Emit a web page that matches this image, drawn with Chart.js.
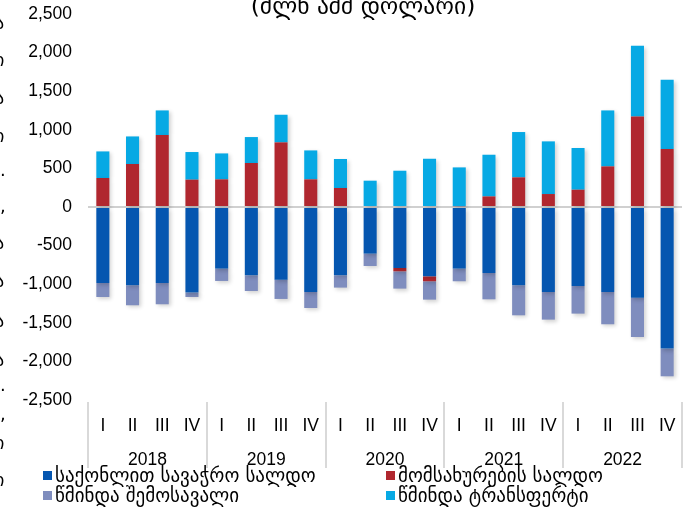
<!DOCTYPE html>
<html>
<head>
<meta charset="utf-8">
<script src="https://cdn.jsdelivr.net/npm/chart.js@4.4.1/dist/chart.umd.min.js"></script>
<style>
  html,body{margin:0;padding:0;background:#fff;overflow:hidden;}
  #wrap{position:relative;width:691px;height:509px;overflow:hidden;}
  #c{position:absolute;left:0;top:0;}
  #title{position:absolute;left:0;width:726px;top:-7px;text-align:center;font-family:"DejaVu Sans",sans-serif;font-size:23.5px;line-height:27px;color:#000;white-space:nowrap;}
  .leg{position:absolute;font-family:"DejaVu Sans",sans-serif;color:#000;white-space:nowrap;line-height:20px;}
  .sq{position:absolute;width:9px;height:9px;}
  .frag{position:absolute;font-family:"DejaVu Sans",sans-serif;font-size:18px;color:#000;line-height:20px;}
</style>
</head>
<body>
<div id="wrap">
  <canvas id="c" width="691" height="509"></canvas>
  <div id="title">(მლნ აშშ დოლარი)</div>
  <div id="legend"></div>
  <div id="frags"></div>
</div>
<script>
const quarters = ['I','II','III','IV','I','II','III','IV','I','II','III','IV','I','II','III','IV','I','II','III','IV'];
const years = ['2018','2019','2020','2021','2022'];
const seriesNames = ['საქონლით სავაჭრო სალდო','მომსახურების სალდო','წმინდა შემოსავალი','წმინდა ტრანსფერტი'];
const tradeBalance = [-984,-1014,-984,-1109,-798,-885,-941,-1101,-885,-604,-790,-898,-798,-855,-1014,-1101,-1023,-1101,-1174,-1834];
const servicesBalance = [376,557,932,354,358,570,837,358,246,0,-43,-64,10,137,384,168,224,526,1173,751];
const netIncome = [-182,-259,-276,-57,-160,-203,-250,-207,-159,-160,-224,-238,-164,-341,-389,-358,-358,-418,-510,-359];
const netTransfers = [344,357,319,358,336,336,358,375,376,341,470,625,503,540,587,682,540,725,916,898];
const colors = ['#0556B0','#B0272F','#7F8DBE','#07A9E4'];

// legend (HTML): square x, text x, row centre y, target text width
const legLayout = [[43,55,476,265],[386,398,476,209],[43,55,496,188],[386,398,496,192]];
const legEl = document.getElementById('legend');
const mctx = document.createElement('canvas').getContext('2d');
mctx.font = '17px "DejaVu Sans"';
seriesNames.forEach((n,i)=>{
  const L=legLayout[i];
  const sq=document.createElement('div');sq.className='sq';sq.style.background=colors[i];
  sq.style.left=L[0]+'px';sq.style.top=(L[2]-5)+'px';legEl.appendChild(sq);
  const fs=Math.max(15,Math.min(19,17*L[3]/mctx.measureText(n).width));
  const d=document.createElement('div');d.className='leg';d.style.fontSize=fs.toFixed(2)+'px';
  d.style.left=L[1]+'px';d.style.top=(L[2]-11)+'px';d.textContent=n;legEl.appendChild(d);
});
// clipped fragments of neighbouring text on the left edge
const frags = [['ა',25],['ი',62],['ა',100],['ი',138],['.',172],[',',208],['ა',245],['ა',283],['ა',323],['ა',362],['.',387],[',',416],['ი',445],['ი',482]];
const fEl=document.getElementById('frags');
frags.forEach(f=>{const s=document.createElement('div');s.className='frag';s.textContent=f[0];
  s.style.left=(f[0]==='.'||f[0]===',')?'0px':'-5px';s.style.top=(f[1]-12)+'px';fEl.appendChild(s);});

const shadowPlugin={
  id:'shadow',
  beforeDatasetsDraw(chart){const c=chart.ctx;c.save();c.shadowColor='rgba(0,0,0,0.18)';c.shadowBlur=4;c.shadowOffsetX=2;c.shadowOffsetY=2;},
  afterDatasetsDraw(chart){chart.ctx.restore();}
};
const dividerPlugin={
  id:'dividers',
  afterDraw(chart){
    const xs=chart.scales.x, c=chart.ctx;
    const n=years.length, w=(xs.right-xs.left)/n;
    c.save();c.strokeStyle='#d9d9d9';c.lineWidth=2;
    for(let k=0;k<=n;k++){const x=Math.round(xs.left+k*w);c.beginPath();c.moveTo(x,402);c.lineTo(x,468);c.stroke();}
    c.restore();
  }
};
const tickFont={family:'"Liberation Sans", Arial, sans-serif',size:17.5};
new Chart(document.getElementById('c'),{
  type:'bar',
  data:{labels:quarters,datasets:[
    {label:seriesNames[0],data:tradeBalance,backgroundColor:colors[0]},
    {label:seriesNames[1],data:servicesBalance,backgroundColor:colors[1]},
    {label:seriesNames[2],data:netIncome,backgroundColor:colors[2]},
    {label:seriesNames[3],data:netTransfers,backgroundColor:colors[3]}
  ]},
  options:{
    responsive:false,animation:false,
    layout:{padding:{left:0,right:9,top:14,bottom:40}},
    datasets:{bar:{categoryPercentage:1,barPercentage:0.44,borderWidth:0}},
    plugins:{legend:{display:false},tooltip:{enabled:false},title:{display:false}},
    scales:{
      x:{stacked:true,grid:{display:false},border:{display:false},
         ticks:{color:'#000',font:tickFont,padding:8,maxRotation:0,autoSkip:false},
         afterFit(s){s.height=31;s.paddingLeft=0;s.paddingRight=0;}},
      x2:{type:'category',labels:years,offset:true,position:'bottom',grid:{display:false},border:{display:false},
         ticks:{color:'#000',font:tickFont,padding:11,maxRotation:0,autoSkip:false},
         afterFit(s){s.height=38;s.paddingLeft=0;s.paddingRight=0;}},
      y:{stacked:true,min:-2500,max:2500,
         ticks:{stepSize:500,color:'#000',font:tickFont,padding:16},
         border:{display:false},
         grid:{drawTicks:false,lineWidth:2,color:(ctx)=>ctx.tick&&ctx.tick.value===0?'#d0d0d0':'rgba(0,0,0,0)'},
         afterFit(s){s.width=88;s.paddingTop=0;s.paddingBottom=0;}}
    }
  },
  plugins:[shadowPlugin,dividerPlugin]
});
</script>
</body>
</html>
